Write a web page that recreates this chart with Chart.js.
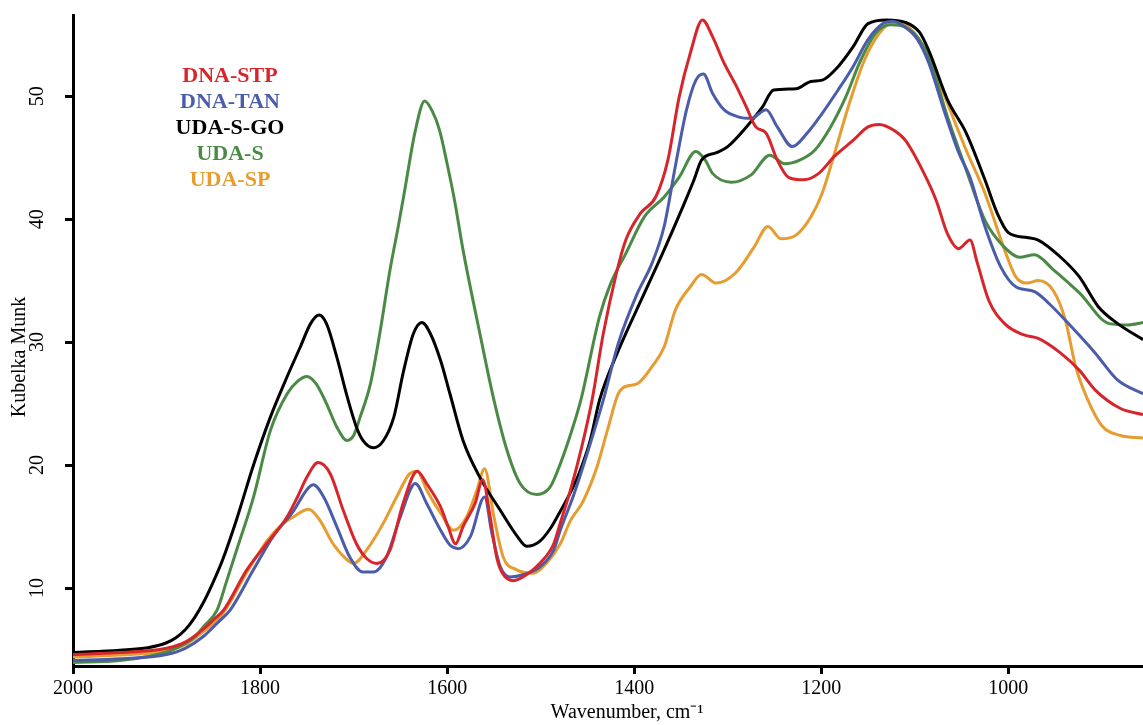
<!DOCTYPE html>
<html>
<head>
<meta charset="utf-8">
<script src="https://cdn.jsdelivr.net/npm/chart.js"></script>
<style>
  html, body { margin: 0; padding: 0; background: #fff; }
  #wrap { width: 1143px; height: 725px; position: relative; }
</style>
</head>
<body>
<div id="wrap"><canvas id="chart"></canvas></div>
<script>
// wavenumber (cm-1), Kubelka-Munk
const dnaStp = [[2000,4.6],[1950,4.75],[1900,5.1],[1880,5.6],[1860,6.7],[1850,7.4],[1839,8.2],[1814,11.5],[1793,13.6],[1771,15.8],[1760,17.4],[1750,19.0],[1738,20.2],[1725,19.3],[1711,16.3],[1697,13.6],[1686,12.4],[1675,12.0],[1661,13.1],[1647,16.9],[1632,19.5],[1622,18.5],[1607,16.6],[1599,15.0],[1591,13.6],[1583,15.0],[1570,16.9],[1562,18.8],[1554,15.8],[1547,12.5],[1540,11.1],[1529,10.6],[1515,11.1],[1501,12.0],[1486,13.6],[1479,15.3],[1468,18.0],[1456,21.5],[1445,25.3],[1433,30.7],[1419,35.6],[1409,38.3],[1393,40.5],[1377,41.8],[1364,44.8],[1352,49.9],[1340,53.5],[1327,56.2],[1316,54.8],[1304,52.7],[1292,51.0],[1280,49.1],[1270,47.5],[1259,47.0],[1247,44.8],[1235,43.4],[1219,43.2],[1203,43.7],[1186,45.1],[1166,46.4],[1150,47.5],[1138,47.7],[1122,47.2],[1110,46.4],[1090,43.7],[1077,41.5],[1065,38.8],[1053,37.6],[1041,38.3],[1033,36.4],[1021,33.4],[1004,31.5],[984,30.6],[968,30.3],[944,29.1],[924,27.7],[907,26.1],[880,24.6],[856,24.1]];

const dnaTan = [[2000,4.1],[1950,4.25],[1900,4.6],[1880,5.1],[1860,6.1],[1845,7.2],[1832,8.2],[1807,11.5],[1786,14.2],[1764,16.3],[1750,18.0],[1743,18.4],[1732,17.4],[1718,15.0],[1704,12.5],[1690,11.3],[1679,11.3],[1665,12.5],[1650,15.8],[1634,18.5],[1622,16.9],[1607,14.7],[1597,13.5],[1588,13.2],[1575,14.2],[1560,17.4],[1552,14.4],[1543,11.7],[1533,10.9],[1518,11.1],[1501,11.7],[1486,13.1],[1479,14.7],[1465,17.5],[1450,21.0],[1433,25.3],[1417,29.9],[1397,33.9],[1381,36.4],[1368,39.4],[1356,44.3],[1344,48.9],[1334,51.3],[1326,51.8],[1316,50.2],[1304,48.9],[1288,48.3],[1275,48.2],[1259,48.9],[1247,47.5],[1231,45.9],[1215,47.0],[1199,48.6],[1182,50.5],[1166,52.4],[1150,54.6],[1134,55.9],[1124,56.1],[1110,55.6],[1097,54.6],[1085,52.7],[1069,48.9],[1053,45.4],[1041,43.4],[1025,39.4],[1008,36.1],[992,34.5],[972,34.1],[956,33.1],[932,31.2],[907,29.1],[883,26.9],[856,25.8]];

const udaSGo = [[2000,4.75],[1950,4.95],[1920,5.15],[1900,5.55],[1890,5.95],[1880,6.6],[1870,7.6],[1860,8.9],[1850,10.5],[1840,12.3],[1825,15.6],[1807,20.0],[1789,23.9],[1771,27.2],[1757,29.6],[1746,31.5],[1737,32.2],[1729,31.5],[1718,28.8],[1707,25.6],[1697,23.1],[1690,22.0],[1679,21.4],[1668,22.0],[1657,23.9],[1647,27.5],[1636,30.7],[1627,31.6],[1618,30.7],[1607,28.5],[1597,25.8],[1583,22.0],[1565,19.0],[1543,16.3],[1525,14.2],[1515,13.4],[1501,13.8],[1490,14.8],[1480,16.1],[1468,17.8],[1458,19.5],[1447,22.0],[1437,25.3],[1417,29.3],[1389,34.0],[1368,37.5],[1348,41.0],[1336,43.2],[1328,44.8],[1312,45.4],[1300,45.9],[1280,47.5],[1263,49.1],[1251,50.5],[1227,50.6],[1211,51.2],[1199,51.3],[1182,52.4],[1166,54.0],[1150,55.9],[1130,56.2],[1110,56.0],[1095,55.2],[1085,53.7],[1065,49.7],[1045,47.0],[1025,43.2],[1012,40.5],[1000,38.9],[980,38.5],[968,38.3],[944,36.9],[924,35.3],[904,32.9],[883,31.5],[856,30.2]];

const udaS = [[2000,3.95],[1950,4.1],[1900,4.8],[1880,5.5],[1870,6.0],[1860,6.9],[1846,8.2],[1836,10.5],[1825,13.1],[1807,17.4],[1789,22.8],[1771,25.8],[1760,26.8],[1750,27.2],[1740,26.6],[1729,25.0],[1718,23.1],[1707,22.0],[1700,22.4],[1693,23.9],[1682,26.6],[1672,30.7],[1661,35.9],[1652,39.5],[1645,42.5],[1634,47.2],[1624,49.6],[1616,48.8],[1608,47.2],[1600,44.5],[1592,41.5],[1583,37.5],[1565,30.7],[1550,25.3],[1536,21.2],[1522,18.5],[1504,17.6],[1490,18.2],[1479,20.1],[1468,22.5],[1457,25.3],[1437,32.1],[1425,34.8],[1409,37.2],[1389,40.2],[1368,41.8],[1352,43.4],[1334,45.5],[1324,44.8],[1316,43.7],[1296,43.0],[1275,43.6],[1255,45.2],[1239,44.5],[1223,44.8],[1207,45.6],[1190,47.5],[1174,49.9],[1158,52.9],[1142,55.1],[1126,55.8],[1110,55.6],[1097,54.8],[1085,53.2],[1065,48.3],[1045,44.0],[1025,39.9],[1004,37.7],[988,36.9],[972,37.1],[952,35.9],[924,34.0],[892,31.5],[872,31.4],[856,31.6]];

const udaSp = [[2000,4.4],[1950,4.55],[1900,4.9],[1880,5.4],[1860,6.5],[1850,7.1],[1839,8.0],[1814,11.3],[1793,13.8],[1779,15.0],[1764,15.8],[1748,16.4],[1736,15.5],[1722,13.6],[1707,12.3],[1700,12.0],[1686,13.1],[1668,15.3],[1654,17.4],[1640,19.3],[1632,19.5],[1622,18.0],[1607,16.1],[1593,14.7],[1579,15.8],[1568,18.0],[1560,19.7],[1550,15.8],[1540,12.5],[1526,11.5],[1508,11.2],[1494,12.0],[1479,13.6],[1468,15.5],[1455,17.0],[1440,19.8],[1428,23.0],[1417,25.8],[1409,26.4],[1397,26.6],[1381,28.0],[1368,29.6],[1356,32.6],[1340,34.5],[1328,35.5],[1312,34.8],[1292,35.6],[1272,37.7],[1257,39.4],[1243,38.4],[1227,38.7],[1211,40.2],[1199,42.1],[1186,45.3],[1170,49.4],[1154,52.9],[1138,55.1],[1124,56.0],[1106,55.6],[1085,53.2],[1065,49.4],[1045,45.6],[1025,42.1],[1004,37.5],[992,35.3],[980,34.8],[968,35.0],[952,34.2],[939,31.8],[928,28.0],[915,25.3],[900,23.2],[880,22.4],[856,22.2]];

const seriesNames = ['DNA-STP', 'DNA-TAN', 'UDA-S-GO', 'UDA-S', 'UDA-SP'];
const seriesColors = ['#d7262b', '#4a5caa', '#000000', '#4b8a45', '#e69c2f'];
const xTicks = [2000, 1800, 1600, 1400, 1200, 1000];
const yTicks = [10, 20, 30, 40, 50];
const xTitle = 'Wavenumber, cm⁻¹';
const yTitle = 'Kubelka Munk';

const serif = '"Liberation Serif", "Times New Roman", serif';

function toPoints(arr) {
    return arr.map(p => ({ x: p[0], y: p[1] }));
}

// sample names as coloured text in the upper left, plus the two axis titles
const labelsPlugin = {
    id: 'labelsPlugin',
    afterDraw(chart) {
        const ctx = chart.ctx;
        ctx.save();
        ctx.textAlign = 'center';
        ctx.textBaseline = 'middle';
        ctx.font = 'bold 22px ' + serif;
        chart.data.datasets.forEach((ds, i) => {
            ctx.fillStyle = ds.borderColor;
            ctx.fillText(ds.label, 230, 76 + i * 26);
        });
        ctx.fillStyle = '#000';
        ctx.font = '20px ' + serif;
        ctx.fillText(xTitle, 627, 713);
        ctx.translate(20, 357);
        ctx.rotate(-Math.PI / 2);
        ctx.fillText(yTitle, 0, 0);
        ctx.restore();
    }
};

// no extra room at the axis ends, the plot runs to the canvas edge
function noEndPadding(s) {
    s.paddingTop = 0;
    s.paddingBottom = 0;
    s.paddingLeft = 0;
    s.paddingRight = 0;
}

const sets = [dnaStp, dnaTan, udaSGo, udaS, udaSp];

const ctx = document.getElementById('chart').getContext('2d');
const chart = new Chart(ctx, {
    type: 'line',
    data: {
        datasets: sets.map((s, i) => ({
            label: seriesNames[i],
            data: toPoints(s),
            borderColor: seriesColors[i],
            backgroundColor: seriesColors[i],
            borderWidth: 3,
            pointRadius: 0,
            cubicInterpolationMode: 'monotone',
            fill: false
        }))
    },
    options: {
        responsive: true,
        maintainAspectRatio: false,
        animation: false,
        layout: { padding: { top: 15, right: 0, left: 0, bottom: 0 } },
        plugins: {
            legend: { display: false },
            tooltip: { enabled: false }
        },
        scales: {
            x: {
                type: 'linear',
                reverse: true,
                min: 856,
                max: 2000,
                afterBuildTicks: s => { s.ticks = xTicks.map(v => ({ value: v })); },
                afterFit: s => { s.height = 59; noEndPadding(s); },
                grid: { drawOnChartArea: false, drawTicks: true, tickLength: 8, tickWidth: 3, tickColor: '#000' },
                border: { display: true, color: '#000', width: 3 },
                ticks: {
                    color: '#000',
                    font: { family: serif, size: 20 },
                    padding: 3,
                    maxRotation: 0,
                    callback: v => String(v)
                }
            },
            y: {
                type: 'linear',
                min: 3.66,
                max: 56.6,
                afterBuildTicks: s => { s.ticks = yTicks.map(v => ({ value: v })); },
                afterFit: s => { s.width = 73; noEndPadding(s); },
                grid: { drawOnChartArea: false, drawTicks: true, tickLength: 8, tickWidth: 3, tickColor: '#000' },
                border: { display: true, color: '#000', width: 3 },
                ticks: {
                    color: '#000',
                    font: { family: serif, size: 20 },
                    minRotation: 90,
                    maxRotation: 90,
                    crossAlign: 'center',
                    padding: 17,
                    callback: v => String(v)
                }
            }
        }
    },
    plugins: [labelsPlugin]
});
</script>
</body>
</html>
